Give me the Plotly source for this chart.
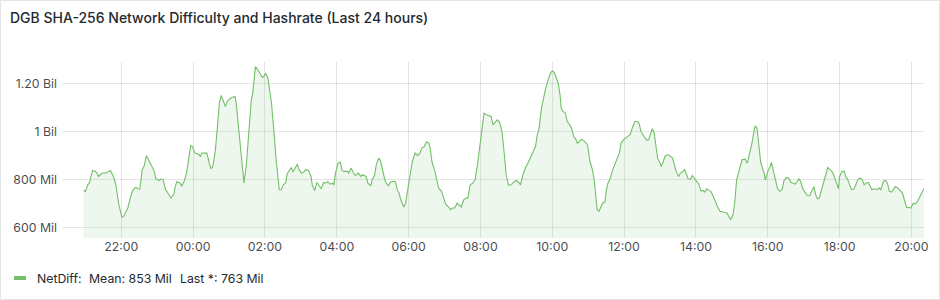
import plotly.graph_objects as go
import pandas as pd

# Minutes after 20:00 on day 0, and NetDiff values in millions
minutes = [57, 60, 64, 67, 72, 77, 79, 82, 86, 89, 94, 98, 102, 104, 108, 111, 113, 116, 118, 121,
           124, 127, 131, 135, 138, 142, 145, 148, 151, 155, 158, 162, 166, 170, 175, 178, 183, 187, 190, 194,
           198, 203, 208, 210, 213, 218, 221, 225, 229, 233, 236, 239, 243, 247, 250, 252, 255, 259, 263, 267,
           270, 273, 277, 280, 284, 287, 291, 294, 297, 301, 305, 310, 312, 316, 321, 325, 329, 333, 337, 340,
           344, 348, 352, 356, 358, 361, 365, 368, 371, 375, 379, 384, 387, 391, 395, 397, 401, 404, 407, 411,
           414, 417, 421, 425, 428, 433, 437, 439, 443, 447, 450, 454, 458, 462, 465, 469, 473, 475, 478, 482,
           486, 489, 493, 498, 500, 504, 508, 511, 516, 520, 523, 527, 529, 532, 537, 539, 543, 546, 550, 553,
           557, 561, 566, 570, 573, 578, 581, 584, 587, 590, 592, 595, 598, 602, 606, 609, 611, 615, 619, 622,
           626, 630, 634, 636, 639, 644, 648, 650, 655, 659, 662, 666, 670, 673, 677, 681, 684, 688, 692, 696,
           699, 703, 707, 711, 715, 719, 723, 726, 730, 734, 738, 741, 745, 748, 752, 756, 760, 763, 767, 771,
           775, 780, 784, 787, 791, 795, 800, 803, 808, 812, 815, 818, 822, 826, 829, 833, 837, 840, 843, 846,
           850, 853, 855, 858, 862, 865, 868, 872, 876, 879, 882, 885, 889, 893, 896, 899, 903, 907, 910, 913,
           915, 918, 921, 924, 928, 930, 933, 937, 940, 944, 948, 952, 955, 959, 964, 968, 970, 974, 978, 982,
           985, 988, 993, 997, 1001, 1004, 1007, 1010, 1013, 1016, 1020, 1022, 1025, 1029, 1034, 1037, 1041, 1044, 1047, 1051,
           1054, 1057, 1061, 1064, 1067, 1071, 1074, 1077, 1081, 1085, 1088, 1092, 1095, 1098, 1102, 1105, 1109, 1113, 1116, 1120,
           1124, 1128, 1132, 1135, 1138, 1142, 1145, 1148, 1151, 1153, 1157, 1162, 1166, 1169, 1173, 1177, 1179, 1182, 1185, 1188,
           1191, 1194, 1196, 1200, 1204, 1206, 1209, 1213, 1216, 1220, 1224, 1227, 1231, 1235, 1239, 1242, 1246, 1249, 1252, 1255,
           1258, 1262, 1266, 1270, 1274, 1277, 1280, 1283, 1286, 1290, 1294, 1297, 1300, 1304, 1308, 1311, 1315, 1318, 1320, 1324,
           1328, 1330, 1333, 1336, 1340, 1344, 1347, 1351, 1355, 1358, 1361, 1364, 1368, 1371, 1374, 1378, 1382, 1386, 1389, 1393,
           1397, 1400, 1403, 1407, 1411, 1413, 1417, 1421, 1425, 1429, 1432, 1436, 1439, 1443, 1446, 1450, 1454, 1458, 1461]
netdiff = [755, 751, 778, 788, 838, 834, 829, 813, 823, 827, 827, 834, 838, 827, 806, 778, 737, 695, 675, 644,
           647, 661, 682, 723, 748, 765, 767, 761, 761, 841, 854, 899, 882, 861, 834, 803, 796, 803, 799, 758,
           744, 723, 740, 771, 792, 785, 774, 792, 827, 889, 941, 937, 910, 907, 903, 896, 910, 910, 910, 868,
           845, 854, 917, 1000, 1120, 1149, 1127, 1103, 1124, 1135, 1141, 1145, 1117, 1014, 903, 785, 861, 1000, 1124, 1166,
           1269, 1256, 1242, 1224, 1228, 1242, 1221, 1166, 1117, 1000, 875, 758, 758, 778, 788, 823, 841, 850, 831, 848,
           864, 841, 827, 831, 841, 838, 813, 778, 754, 788, 778, 762, 788, 785, 792, 781, 785, 778, 827, 868,
           872, 837, 834, 834, 827, 848, 827, 817, 827, 813, 820, 817, 813, 785, 774, 799, 817, 861, 889, 878,
           834, 792, 774, 790, 792, 792, 758, 744, 716, 693, 686, 702, 751, 827, 872, 896, 910, 900, 910, 931,
           937, 956, 951, 931, 875, 834, 792, 765, 751, 723, 698, 688, 675, 682, 682, 702, 695, 686, 716, 723,
           723, 778, 785, 799, 861, 944, 1027, 1076, 1069, 1065, 1062, 1027, 1041, 1048, 1038, 1000, 903, 820, 776, 778,
           788, 796, 788, 778, 820, 848, 872, 889, 910, 937, 986, 1014, 1097, 1152, 1180, 1214, 1242, 1251, 1246, 1228,
           1200, 1152, 1097, 1083, 1076, 1041, 1032, 1014, 979, 969, 951, 958, 968, 961, 951, 944, 875, 841, 799, 730,
           675, 668, 682, 702, 707, 751, 785, 806, 834, 861, 882, 910, 951, 965, 975, 982, 986, 1016, 1041, 1041,
           1034, 1001, 979, 965, 965, 993, 1011, 997, 944, 889, 868, 854, 872, 900, 903, 896, 889, 861, 834, 813,
           827, 831, 841, 823, 803, 802, 817, 806, 795, 781, 754, 754, 748, 762, 754, 751, 730, 702, 688, 668,
           665, 665, 661, 647, 633, 654, 709, 799, 827, 848, 882, 885, 868, 903, 944, 1000, 1023, 1014, 931, 875,
           848, 827, 799, 834, 854, 871, 841, 792, 765, 751, 758, 795, 809, 806, 788, 785, 781, 792, 803, 792,
           765, 748, 734, 733, 751, 771, 737, 720, 723, 765, 795, 820, 850, 841, 831, 813, 785, 762, 813, 834,
           834, 813, 803, 785, 758, 761, 778, 803, 806, 799, 778, 785, 788, 771, 758, 762, 758, 765, 758, 792,
           796, 785, 751, 748, 765, 771, 765, 754, 744, 709, 684, 684, 682, 702, 698, 709, 730, 744, 763]

tick_hours = ["22:00", "00:00", "02:00", "04:00", "06:00", "08:00", "10:00", "12:00",
              "14:00", "16:00", "18:00", "20:00"]
y_tickvals = [600, 800, 1000, 1200]
y_ticktext = ["600 Mil", "800 Mil", "1 Bil", "1.20 Bil"]

title = "DGB SHA-256 Network Difficulty and Hashrate (Last 24 hours)"
legend_name = "NetDiff:"
legend_mean = "Mean: 853 Mil"
legend_last = "Last *: 763 Mil"

base = pd.Timestamp("2024-01-01 20:00")
times = [base + pd.Timedelta(minutes=m) for m in minutes]
range_start = base + pd.Timedelta(minutes=21)
range_end = base + pd.Timedelta(minutes=1461)
tick_times = [base + pd.Timedelta(hours=2 + 2 * i) for i in range(len(tick_hours))]

line_color = "#73BF69"
font = "Inter, 'Noto Sans', sans-serif"
text_col = "rgb(36,41,46)"
tick_col = "rgba(36,41,46,0.85)"


def px(xp):
    return (xp - 62) / 862


def py(yp):
    return (238 - yp) / 176


fig = go.Figure()
fig.add_trace(go.Scatter(
    x=times, y=netdiff, mode="lines",
    line=dict(color=line_color, width=1.1),
    fill="tozeroy", fillcolor="rgba(115,191,105,0.12)",
    showlegend=False, hoverinfo="skip",
))

fig.update_layout(
    width=940, height=300,
    margin=dict(l=62, r=16, t=62, b=62),
    paper_bgcolor="white", plot_bgcolor="white",
    font=dict(family=font, size=12, color=tick_col),
    xaxis=dict(
        type="date", range=[range_start, range_end],
        tickvals=tick_times, ticktext=tick_hours,
        showgrid=True, gridcolor="rgba(0,0,0,0.1)", gridwidth=1,
        zeroline=False, showline=False, ticks="",
        tickfont=dict(size=12.3, color=tick_col),
    ),
    yaxis=dict(
        range=[557.3, 1288.3],
        tickvals=y_tickvals, ticktext=y_ticktext,
        showgrid=True, gridcolor="rgba(0,0,0,0.1)", gridwidth=1,
        zeroline=False, showline=False, ticks="",
        ticklabelstandoff=4,
        tickfont=dict(size=12.3, color=tick_col),
    ),
    shapes=[
        dict(type="rect", xref="paper", yref="paper",
             x0=px(0.5), x1=px(939.5), y0=py(299.5), y1=py(0.5),
             line=dict(color="#e4e4e4", width=1), fillcolor="rgba(0,0,0,0)", layer="below"),
        dict(type="line", xref="paper", yref="paper",
             x0=px(14), x1=px(26), y0=py(278), y1=py(278),
             line=dict(color=line_color, width=4)),
    ],
    annotations=[
        dict(text=title, xref="paper", yref="paper",
             x=px(8), y=py(17), xanchor="left", yanchor="middle",
             showarrow=False, font=dict(size=14, color=text_col, family=font, weight=500)),
        dict(text=legend_name, xref="paper", yref="paper",
             x=px(34.5), y=py(278), xanchor="left", yanchor="middle",
             showarrow=False, font=dict(size=12.3, color=text_col, family=font)),
        dict(text=legend_mean, xref="paper", yref="paper",
             x=px(86.5), y=py(278), xanchor="left", yanchor="middle",
             showarrow=False, font=dict(size=12.3, color=text_col, family=font)),
        dict(text=legend_last, xref="paper", yref="paper",
             x=px(178), y=py(278), xanchor="left", yanchor="middle",
             showarrow=False, font=dict(size=12.3, color=text_col, family=font)),
    ],
)

fig.write_html("out.html")
